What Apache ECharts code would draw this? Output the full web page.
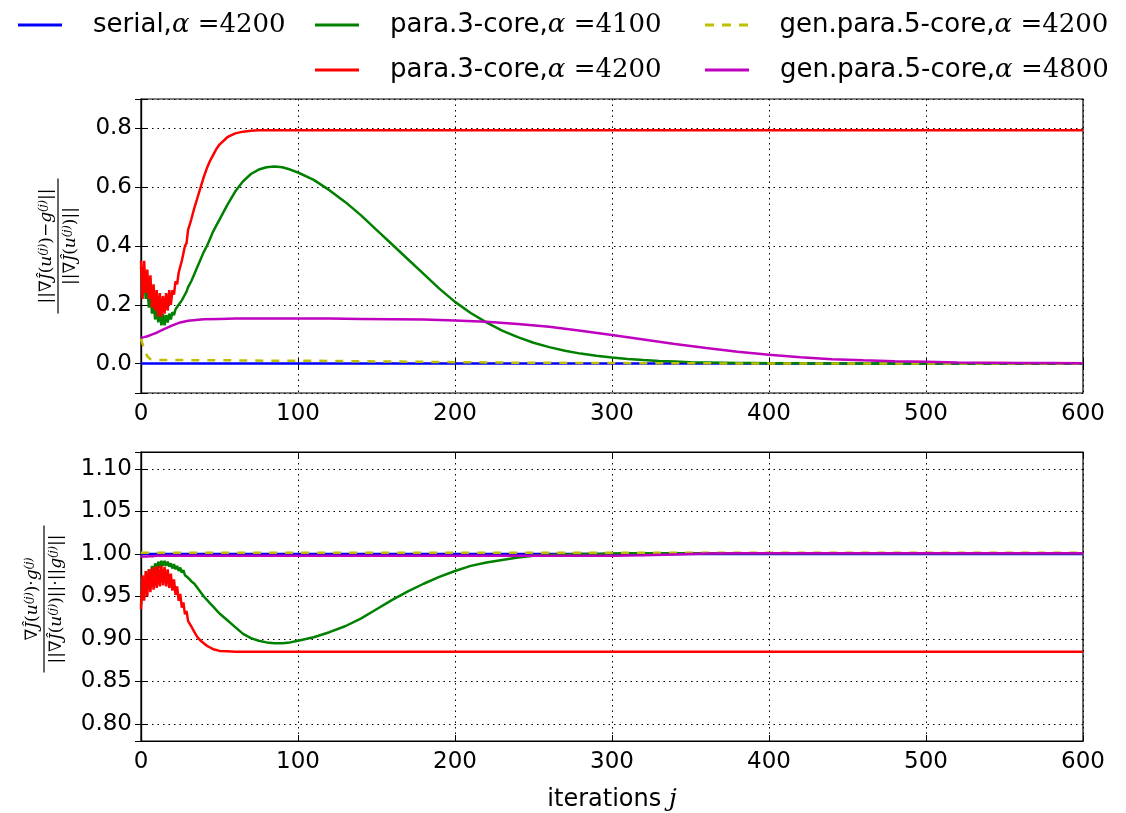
<!DOCTYPE html>
<html>
<head>
<meta charset="utf-8">
<script src="https://cdn.jsdelivr.net/npm/echarts@6/dist/echarts.min.js"></script>
<style>
html,body{margin:0;padding:0;background:#fff;}
#chart{width:1126px;height:813px;}
</style>
</head>
<body>
<div id="chart"></div>
<script>
// ---------- data ----------
const seriesNames = ['serial', 'para4100', 'para4200', 'gen4200', 'gen4800'];
const xTicks = [0, 100, 200, 300, 400, 500, 600];

const iterDense = [0,1,2,3,4,5,6,7,8,9,10,11,12,13,14,15,16,17,18,19,20,21,22,23,24,25,26,27,28,29,30,
  32,34,36,38,40,42,44,46,48,50,
  55,60,65,70,75,80,85,90,95,100,
  110,120,130,140,150,160,170,180,190,200,
  210,220,230,240,250,260,270,280,290,300,
  310,320,330,340,350,360,370,380,390,400,
  410,420,430,440,450,460,470,480,490,500,
  510,520,530,540,550,560,570,580,590,600];

const iterSparse = [0,2,4,6,8,10,15,20,25,30,40,50,60,80,100,120,140,160,180,200,220,240,260,280,300,
  320,340,360,380,400,420,440,460,480,500,520,540,560,580,600];

const iterSerial = [0, 600];

// top panel: relative error
const topSerial = [0, 0];
const topPara4100 = [0.33,0.24,0.30,0.22,0.27,0.19,0.24,0.17,0.21,0.15,0.19,0.14,0.18,0.13,0.17,0.13,0.165,0.14,0.17,0.15,0.175,0.165,0.185,0.18,0.20,0.20,0.215,0.22,0.235,0.245,0.26,
  0.28,0.305,0.33,0.355,0.38,0.40,0.425,0.45,0.47,0.49,
  0.54,0.585,0.62,0.645,0.66,0.668,0.67,0.668,0.66,0.65,
  0.625,0.59,0.55,0.505,0.455,0.405,0.355,0.305,0.255,0.21,
  0.172,0.14,0.112,0.09,0.071,0.056,0.044,0.034,0.027,0.021,
  0.016,0.012,0.009,0.007,0.005,0.004,0.003,0.002,0.002,0.001,
  0.001,0.001,0,0,0,0,0,0,0,0,
  0,0,0,0,0,0,0,0,0,0];
const topPara4200 = [0.35,0.22,0.35,0.24,0.32,0.22,0.30,0.19,0.27,0.18,0.25,0.16,0.24,0.16,0.23,0.17,0.24,0.18,0.25,0.20,0.25,0.235,0.28,0.27,0.31,0.31,0.35,0.355,0.40,0.41,0.455,
  0.49,0.53,0.565,0.60,0.635,0.665,0.69,0.71,0.73,0.745,
  0.77,0.783,0.789,0.792,0.794,0.794,0.794,0.794,0.794,0.794,
  0.794,0.794,0.794,0.794,0.794,0.794,0.794,0.794,0.794,0.794,
  0.794,0.794,0.794,0.794,0.794,0.794,0.794,0.794,0.794,0.794,
  0.794,0.794,0.794,0.794,0.794,0.794,0.794,0.794,0.794,0.794,
  0.794,0.794,0.794,0.794,0.794,0.794,0.794,0.794,0.794,0.794,
  0.794,0.794,0.794,0.794,0.794,0.794,0.794,0.794,0.794,0.794];
const topGen4200 = [0.085,0.05,0.025,0.015,0.013,0.012,
  0.012,0.012,0.012,0.012,0.011,0.011,0.011,0.01,0.01,
  0.009,0.008,0.007,0.006,0.005,0.004,0.003,0.003,0.002,0.002,
  0.001,0.001,0.001,0,0,0,0,0,0,0,0,0,0,0,0];
const topGen4800 = [0.088,0.09,0.093,0.097,0.101,0.105,
  0.118,0.13,0.14,0.146,0.151,0.152,0.153,0.153,0.153,
  0.153,0.152,0.151,0.15,0.147,0.142,0.135,0.125,0.112,0.097,
  0.082,0.067,0.053,0.04,0.03,0.022,0.015,0.011,0.008,0.006,0.004,0.003,0.002,0.002,0.001];

// bottom panel: cosine of angle
const botSerial = [1, 1];
const botPara4100 = [0.94,0.97,0.95,0.975,0.96,0.982,0.968,0.986,0.975,0.989,0.98,0.991,0.984,0.992,0.986,0.992,0.986,0.991,0.985,0.989,0.983,0.988,0.982,0.986,0.98,0.984,0.978,0.981,0.975,0.977,0.972,
  0.968,0.965,0.96,0.955,0.95,0.946,0.942,0.938,0.934,0.93,
  0.922,0.914,0.906,0.901,0.898,0.896,0.895,0.895,0.896,0.898,
  0.902,0.908,0.915,0.924,0.935,0.946,0.956,0.965,0.973,0.98,
  0.986,0.99,0.993,0.996,0.998,0.999,0.9995,1.0,1.0,1.0005,
  1.001,1.001,1.001,1.001,1.001,1.001,1.001,1.001,1.001,1.001,
  1.001,1.001,1.001,1.001,1.001,1.001,1.001,1.001,1.001,1.001,
  1.001,1.001,1.001,1.001,1.001,1.001,1.001,1.001,1.001,1.001];
const botPara4200 = [0.935,0.975,0.945,0.98,0.95,0.982,0.955,0.984,0.958,0.985,0.96,0.986,0.962,0.986,0.963,0.985,0.962,0.982,0.96,0.977,0.957,0.97,0.952,0.962,0.945,0.953,0.937,0.943,0.929,0.933,0.921,
  0.915,0.908,0.902,0.898,0.895,0.892,0.89,0.888,0.887,0.886,
  0.8855,0.885,0.885,0.885,0.885,0.885,0.885,0.885,0.885,0.885,
  0.885,0.885,0.885,0.885,0.885,0.885,0.885,0.885,0.885,0.885,
  0.885,0.885,0.885,0.885,0.885,0.885,0.885,0.885,0.885,0.885,
  0.885,0.885,0.885,0.885,0.885,0.885,0.885,0.885,0.885,0.885,
  0.885,0.885,0.885,0.885,0.885,0.885,0.885,0.885,0.885,0.885,
  0.885,0.885,0.885,0.885,0.885,0.885,0.885,0.885,0.885,0.885];
const botGen4200 = [1.0015, 1.0015];
const botGen4800 = [0.997,0.997,0.997,0.9975,0.9975,0.998,
  0.998,0.998,0.998,0.998,0.998,0.998,0.998,0.998,0.998,
  0.998,0.998,0.998,0.998,0.998,0.998,0.998,0.998,0.998,0.998,
  0.9985,0.9995,1.0005,1.001,1.001,1.001,1.001,1.001,1.001,1.001,1.001,1.001,1.001,1.001,1.001];

// ---------- build ----------
const pairs = (xs, ys) => xs.map((x, i) => [x, ys[i]]);
const colors = {serial:'#0000ff', para4100:'#008000', para4200:'#ff0000', gen4200:'#bfbf00', gen4800:'#bf00bf'};
const legendText = {
  serial: '{a|serial,}{b|α}{c| =4200}',
  para4100: '{a|para.3-core,}{b|α}{c| =4100}',
  para4200: '{a|para.3-core,}{b|α}{c| =4200}',
  gen4200: '{a|gen.para.5-core,}{b|α}{c| =4200}',
  gen4800: '{a|gen.para.5-core,}{b|α}{c| =4800}'
};

function line(name, xs, ys, xi, yi, dashed) {
  return {
    name, type: 'line', xAxisIndex: xi, yAxisIndex: yi,
    data: pairs(xs, ys), symbol: 'none', showSymbol: false,
    lineStyle: {color: colors[name], width: 2.5, type: dashed ? [8, 8] : 'solid'},
    itemStyle: {color: colors[name]},
    emphasis: {disabled: true}, z: 3
  };
}

const tickFont = {fontFamily: 'DejaVu Sans', fontSize: 23, color: '#000'};
const richLegend = {
  a: {fontFamily: 'DejaVu Sans', fontSize: 26, color: '#000'},
  b: {fontFamily: 'DejaVu Serif', fontStyle: 'italic', fontSize: 26, color: '#000'},
  c: {fontFamily: 'DejaVu Serif', fontSize: 26, color: '#000'}
};

const solidIcon = 'path://M0,0H44V3H0Z';
const dashIcon = 'path://M0,0H9V3H0Z M17,0H26V3H17Z M34,0H43V3H34Z';

function mkLegend(name, left, top, dashed) {
  return {
    data: [{name, icon: dashed ? dashIcon : solidIcon}], left, top, orient: 'horizontal',
    itemWidth: 44, itemHeight: 3, selectedMode: false,
    itemStyle: {color: colors[name], borderWidth: 0},
    lineStyle: {width: 0},
    formatter: () => legendText[name],
    textStyle: {rich: richLegend, padding: [0, 0, 0, 26]}
  };
}

const grids = [
  {left: 141, top: 99, width: 942, height: 294, show: true, borderColor: '#000', borderWidth: 1.2},
  {left: 141, top: 452, width: 942, height: 294, show: true, borderColor: '#000', borderWidth: 1.2}
];

function xMain(gi, name) {
  return {
    type: 'value', gridIndex: gi, min: 0, max: 600, interval: 100, position: 'bottom',
    axisLine: {show: true, lineStyle: {color: '#000', width: 1.2}},
    axisTick: {show: true, inside: true, length: 6, lineStyle: {color: '#000'}},
    axisLabel: Object.assign({margin: 10}, tickFont),
    splitLine: {show: true, lineStyle: {color: '#000', type: [1.5, 4], width: 1}},
    name: name || '', nameLocation: 'middle', nameGap: 46,
    nameTextStyle: {rich: {
      a: {fontFamily: 'DejaVu Sans', fontSize: 24, color: '#000'},
      b: {fontFamily: 'DejaVu Serif', fontStyle: 'italic', fontSize: 25, color: '#000'}
    }}
  };
}
function xMirror(gi) {
  return {
    type: 'value', gridIndex: gi, min: 0, max: 600, interval: 100, position: 'top',
    axisLine: {show: true, lineStyle: {color: '#000', width: 1.2}},
    axisTick: {show: true, inside: true, length: 6, lineStyle: {color: '#000'}},
    axisLabel: {show: false}, splitLine: {show: false}
  };
}
function yAxisDef(gi, min, max, splitNumber, step, decimals, right) {
  return {
    type: 'value', gridIndex: gi, min, max, splitNumber, position: right ? 'right' : 'left',
    axisLine: {show: true, lineStyle: {color: '#000', width: 1.2}},
    axisTick: {show: true, inside: true, length: 6, lineStyle: {color: '#000'}},
    axisLabel: right ? {show: false} : Object.assign({
      margin: 9,
      formatter: v => {
        const k = v / step;
        return Math.abs(k - Math.round(k)) < 1e-6 ? v.toFixed(decimals) : '';
      }
    }, tickFont),
    splitLine: {show: !right, lineStyle: {color: '#000', type: [1.5, 4], width: 1}}
  };
}

const fracRich = {
  n: {fontFamily: 'DejaVu Serif', fontSize: 17, color: '#000'},
  i: {fontFamily: 'DejaVu Serif', fontStyle: 'italic', fontSize: 17, color: '#000'},
  s: {fontFamily: 'DejaVu Serif', fontStyle: 'italic', fontSize: 11, color: '#000', verticalAlign: 'top'}
};

function fraction(cx, cy, barLen, numText, denText) {
  return {
    type: 'group', x: cx, y: cy, rotation: Math.PI / 2,
    children: [
      {type: 'line', shape: {x1: -barLen / 2, y1: 0, x2: barLen / 2, y2: 0}, style: {stroke: '#000', lineWidth: 1.2}},
      {type: 'text', x: 0, y: -3, style: {text: numText, rich: fracRich, align: 'center', verticalAlign: 'bottom', fill: '#000'}},
      {type: 'text', x: 0, y: 4, style: {text: denText, rich: fracRich, align: 'center', verticalAlign: 'top', fill: '#000'}}
    ]
  };
}

const option = {
  animation: false,
  backgroundColor: '#fff',
  legend: [
    mkLegend('serial', 13, 7),
    mkLegend('para4100', 310, 7),
    mkLegend('gen4200', 700, 7, true),
    mkLegend('para4200', 310, 52),
    mkLegend('gen4800', 700, 52)
  ],
  grid: grids,
  xAxis: [xMain(0), xMirror(0), xMain(1, '{a|iterations }{b|j}'), xMirror(1)],
  yAxis: [
    yAxisDef(0, -0.1, 0.9, 5, 0.2, 1, false),
    yAxisDef(0, -0.1, 0.9, 5, 0.2, 1, true),
    yAxisDef(1, 0.78, 1.12, 7, 0.05, 2, false),
    yAxisDef(1, 0.78, 1.12, 7, 0.05, 2, true)
  ],
  series: [
    line('serial', iterSerial, topSerial, 0, 0),
    line('para4100', iterDense, topPara4100, 0, 0),
    line('para4200', iterDense, topPara4200, 0, 0),
    line('gen4200', iterSparse, topGen4200, 0, 0, true),
    line('gen4800', iterSparse, topGen4800, 0, 0),
    line('serial', iterSerial, botSerial, 2, 2),
    line('para4100', iterDense, botPara4100, 2, 2),
    line('para4200', iterDense, botPara4200, 2, 2),
    line('gen4200', iterSerial, botGen4200, 2, 2, true),
    line('gen4800', iterSparse, botGen4800, 2, 2)
  ],
  graphic: [
    fraction(58, 246, 135,
      '{n|||∇}{i|Ĵ}{n|(}{i|u}{s|(j)}{n|)−}{i|g}{s|(j)}{n|||}',
      '{n|||∇}{i|Ĵ}{n|(}{i|u}{s|(j)}{n|)||}'),
    fraction(44, 599, 147,
      '{n|∇}{i|Ĵ}{n|(}{i|u}{s|(j)}{n|)·}{i|g}{s|(j)}',
      '{n|||∇}{i|Ĵ}{n|(}{i|u}{s|(j)}{n|)||·||}{i|g}{s|(j)}{n|||}')
  ]
};

const chart = echarts.init(document.getElementById('chart'), null, {renderer: 'canvas'});
chart.setOption(option);
</script>
</body>
</html>
